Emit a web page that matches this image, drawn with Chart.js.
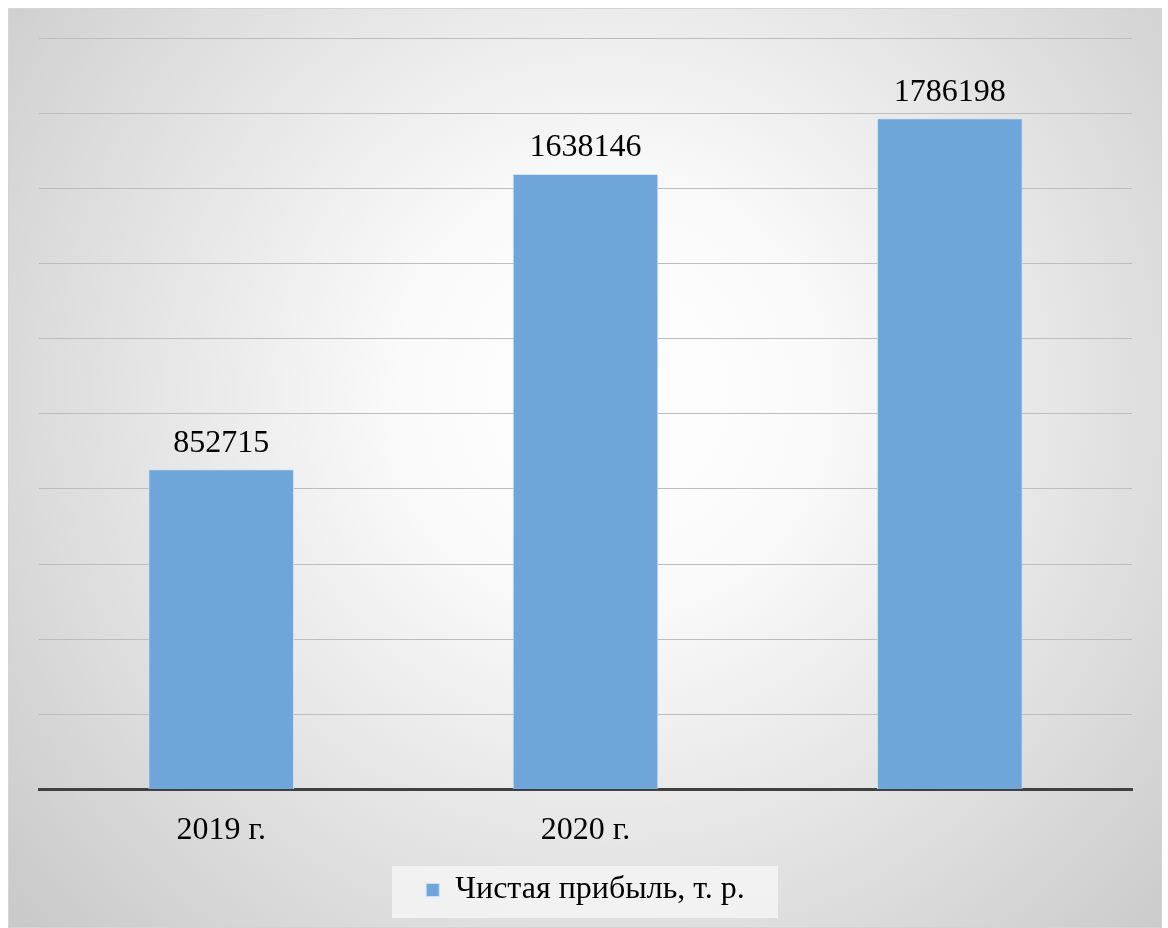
<!DOCTYPE html>
<html>
<head>
<meta charset="utf-8">
<script src="https://cdn.jsdelivr.net/npm/chart.js@4"></script>
<style>
  html, body { margin: 0; padding: 0; background: #fff; }
  #wrap { position: absolute; left: 8px; top: 8px; width: 1154px; height: 920px; }
</style>
</head>
<body>
<div id="wrap"><canvas id="profitChart"></canvas></div>
<script>
// values
const years = ['2019 г.', '2020 г.', ''];
const profit = [852715, 1638146, 1786198];
const seriesName = 'Чистая прибыль, т. р.';
const yMax = 2000000;
const yStep = 200000;

const serif = '"Liberation Serif", "DejaVu Serif", serif';

// gray radial backdrop + legend panel
const backdrop = {
  id: 'backdrop',
  beforeDraw(chart) {
    const c = chart.ctx;
    const w = chart.width, h = chart.height;
    c.save();
    const g = c.createRadialGradient(w * 0.52, h * 0.42, 0, w * 0.52, h * 0.42, w * 0.72);
    g.addColorStop(0, '#ffffff');
    g.addColorStop(0.25, '#fafafa');
    g.addColorStop(1, '#c6c6c6');
    c.fillStyle = g;
    c.fillRect(0, 0, w, h);
    c.strokeStyle = '#d4d4d4';
    c.lineWidth = 1;
    c.strokeRect(0.5, 0.5, w - 1, h - 1);
    const lg = chart.legend;
    if (lg) {
      c.fillStyle = 'rgba(245,245,245,0.85)';
      const bw = 386;
      c.fillRect(chart.width / 2 - bw / 2, lg.top + 2, bw, 52);
    }
    c.restore();
  }
};

// numbers above the bars
const barValues = {
  id: 'barValues',
  afterDatasetsDraw(chart) {
    const c = chart.ctx;
    const meta = chart.getDatasetMeta(0);
    c.save();
    c.font = '32px ' + serif;
    c.fillStyle = '#000';
    c.textAlign = 'center';
    c.textBaseline = 'bottom';
    meta.data.forEach((bar, i) => {
      c.fillText(String(profit[i]), bar.x, bar.y - 10);
    });
    c.restore();
  }
};

const ctx = document.getElementById('profitChart').getContext('2d');
new Chart(ctx, {
  type: 'bar',
  data: {
    labels: years,
    datasets: [{
      label: seriesName,
      data: profit,
      backgroundColor: '#6fa6da',
      borderColor: 'rgba(205,225,245,0.9)',
      borderWidth: 1,
      barPercentage: 0.4,
      categoryPercentage: 1
    }]
  },
  options: {
    responsive: true,
    maintainAspectRatio: false,
    animation: false,
    layout: { padding: { left: 31, right: 30, top: 30, bottom: 12 } },
    plugins: {
      legend: {
        position: 'bottom',
        labels: {
          font: { family: serif, size: 32 },
          color: '#000',
          boxWidth: 13,
          boxHeight: 13,
          padding: 10
        }
      },
      tooltip: { enabled: false }
    },
    scales: {
      x: {
        grid: { display: false },
        border: { color: '#404040', width: 3 },
        ticks: {
          font: { family: serif, size: 32 },
          color: '#000',
          padding: 14
        }
      },
      y: {
        min: 0,
        max: yMax,
        ticks: { display: false, stepSize: yStep },
        grid: { color: '#bdbdbd', lineWidth: 1, drawTicks: false },
        border: { display: false }
      }
    }
  },
  plugins: [backdrop, barValues]
});
</script>
</body>
</html>
